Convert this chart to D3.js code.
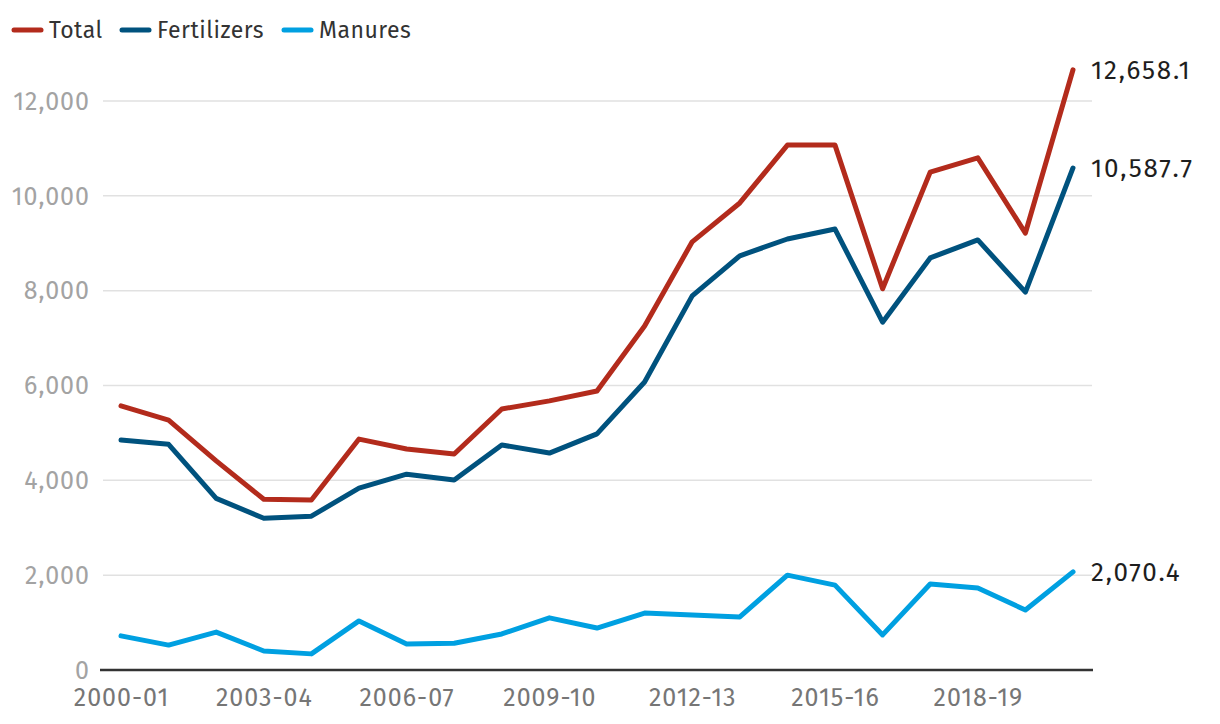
<!DOCTYPE html>
<html>
<head>
<meta charset="utf-8">
<script src="https://cdn.jsdelivr.net/npm/d3@7"></script>
<style>
  body { margin: 0; background: #fff; }
  text { font-family: "Fira Sans", "Noto Sans", sans-serif; }
</style>
</head>
<body>
<div id="chart"></div>
<script>
const years = ["2000-01","2001-02","2002-03","2003-04","2004-05","2005-06","2006-07","2007-08","2008-09","2009-10",
  "2010-11","2011-12","2012-13","2013-14","2014-15","2015-16","2016-17","2017-18","2018-19","2019-20","2020-21"]
const total = [5570, 5270, 4410, 3600, 3585, 4870, 4660, 4555, 5505, 5675, 5885, 7255, 9030, 9850, 11070, 11070, 8040, 10500, 10800, 9215, 12658.1]
const fertilizers = [4850, 4760, 3620, 3200, 3245, 3835, 4130, 4005, 4745, 4575, 4980, 6075, 7890, 8735, 9090, 9300, 7335, 8690, 9070, 7970, 10587.7]
const manures = [720, 525, 800, 400, 340, 1035, 550, 565, 760, 1100, 885, 1200, 1160, 1120, 2000, 1790, 740, 1815, 1730, 1265, 2070.4]
const yTicks = [0, 2000, 4000, 6000, 8000, 10000, 12000]
const xTickLabels = ["2000-01","2003-04","2006-07","2009-10","2012-13","2015-16","2018-19"]

const seriesNames = ["Total", "Fertilizers", "Manures"]
const seriesData = [total, fertilizers, manures]
const colors = ["#b32b1c", "#00527e", "#00a0e1"]

const width = 1220, height = 724

const svg = d3.select("#chart").append("svg")
  .attr("width", width)
  .attr("height", height)

const x = d3.scalePoint().domain(years).range([121, 1073])
const y = d3.scaleLinear().domain([0, 12000]).range([670, 101])

// gridlines
svg.append("g")
  .selectAll("line")
  .data(yTicks.filter(d => d > 0))
  .enter()
  .append("line")
    .attr("x1", 103)
    .attr("x2", 1092)
    .attr("y1", d => y(d))
    .attr("y2", d => y(d))
    .attr("stroke", "#e1e1e1")
    .attr("stroke-width", 1.5)

// y labels
svg.append("g")
  .selectAll("text")
  .data(yTicks)
  .enter()
  .append("text")
    .attr("x", 90)
    .attr("y", d => y(d))
    .attr("dy", "0.35em")
    .attr("text-anchor", "end")
    .attr("fill", "#a3a3a3")
    .style("font-size", "25px")
    .style("letter-spacing", "1px")
    .text(d => d3.format(",")(d))

// x axis
const xAxis = svg.append("g")
  .attr("transform", `translate(0,${y(0)})`)
  .call(d3.axisBottom(x).tickValues(xTickLabels).tickSize(0).tickPadding(18))
xAxis.select(".domain").remove()
xAxis.selectAll("text")
  .attr("fill", "#767676")
  .style("font-size", "25px")
  .style("letter-spacing", "1px")
  .style("font-family", "\"Fira Sans\", \"Noto Sans\", sans-serif")

svg.append("line")
  .attr("x1", 100)
  .attr("x2", 1093)
  .attr("y1", y(0))
  .attr("y2", y(0))
  .attr("stroke", "#333")
  .attr("stroke-width", 2.5)

// lines
const line = d3.line()
  .x((d, i) => x(years[i]))
  .y(d => y(d))

svg.append("g")
  .selectAll("path")
  .data(seriesData)
  .enter()
  .append("path")
    .attr("d", d => line(d))
    .attr("fill", "none")
    .attr("stroke", (d, i) => colors[i])
    .attr("stroke-width", 5)
    .attr("stroke-linejoin", "round")
    .attr("stroke-linecap", "round")

// end labels
svg.append("g")
  .selectAll("text")
  .data(seriesData)
  .enter()
  .append("text")
    .attr("x", 1091)
    .attr("y", d => y(d[d.length - 1]))
    .attr("dy", "0.35em")
    .attr("fill", "#1e1e1e")
    .style("font-size", "26px")
    .style("letter-spacing", "1.8px")
    .text(d => d3.format(",.1f")(d[d.length - 1]))

// legend
const legendX = [12, 120, 282]
const legend = svg.append("g")
  .selectAll("g")
  .data(seriesNames)
  .enter()
  .append("g")
    .attr("transform", (d, i) => `translate(${legendX[i]},30)`)

legend.append("line")
  .attr("x1", 2)
  .attr("x2", 29)
  .attr("stroke", (d, i) => colors[i])
  .attr("stroke-width", 5)
  .attr("stroke-linecap", "round")

legend.append("text")
  .attr("x", 37)
  .attr("dy", "0.35em")
  .attr("fill", "#333")
  .style("font-size", "23px")
  .style("letter-spacing", "0.5px")
  .text(d => d)
</script>
</body>
</html>
